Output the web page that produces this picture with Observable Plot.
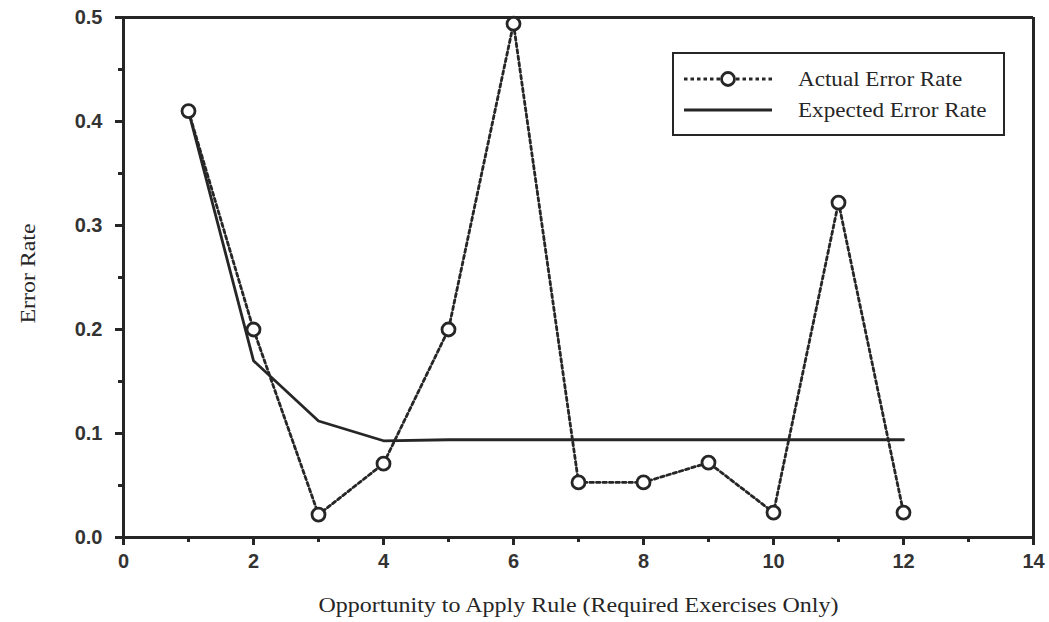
<!DOCTYPE html>
<html><head><meta charset="utf-8">
<script src="https://cdn.jsdelivr.net/npm/d3@7"></script>
<script src="https://cdn.jsdelivr.net/npm/@observablehq/plot@0.6"></script>
<style>
body{margin:0;background:#fff;}
#wrap{position:relative;width:1049px;height:622px;}
#legend{position:absolute;left:672px;top:52px;width:329px;height:80px;border:2.5px solid #262626;background:#fff;font-family:"Liberation Serif",serif;font-size:21px;color:#262626;}
#legend .row{position:absolute;left:10px;height:26px;display:flex;align-items:center;}
#legend .row span{margin-left:26px;display:inline-block;transform:scaleX(1.1);transform-origin:left center;}
</style>
</head><body>
<div id="wrap"><div id="legend"></div></div>
<script>
const opportunity = [1,2,3,4,5,6,7,8,9,10,11,12];
const actualRate = [0.41,0.2,0.022,0.071,0.2,0.494,0.053,0.053,0.072,0.024,0.322,0.024];
const expectedRate = [0.41,0.17,0.112,0.093,0.094,0.094,0.094,0.094,0.094,0.094,0.094,0.094];
const xMajorTicks = [0,2,4,6,8,10,12,14];
const xMinorTicks = [1,3,5,7,9,11,13];
const yMajorTicks = [0,0.1,0.2,0.3,0.4,0.5];
const yMinorTicks = [0.05,0.15,0.25,0.35,0.45];
const xLabel = "Opportunity to Apply Rule (Required Exercises Only)";
const yLabel = "Error Rate";
const seriesNames = ["Actual Error Rate","Expected Error Rate"];

const actual = opportunity.map((x,i)=>({x, y: actualRate[i]}));
const expected = opportunity.map((x,i)=>({x, y: expectedRate[i]}));
const ink = "#262626";

const chart = Plot.plot({
  width: 1049, height: 622,
  marginLeft: 123, marginRight: 16, marginTop: 17, marginBottom: 85,
  x: {domain: [0,14]},
  y: {domain: [0,0.5]},
  style: {fontFamily: '"Liberation Sans", sans-serif', fontSize: "20px", color: ink, background: "#fff"},
  marks: [
    Plot.axisX(xMajorTicks, {tickSize: 8, tickPadding: 8, stroke: ink, strokeWidth: 3, strokeOpacity: 1, tickFormat: d => String(d), label: null, fontSize: 20, fontWeight: "bold", fill: "#333"}),
    Plot.axisX(xMinorTicks, {tickSize: 5, stroke: ink, strokeWidth: 3, strokeOpacity: 1, tickFormat: () => "", label: null}),
    Plot.axisY(yMajorTicks, {tickSize: 8, tickPadding: 13, stroke: ink, strokeWidth: 3, strokeOpacity: 1, tickFormat: d => d.toFixed(1), label: null, fontSize: 20, fontWeight: "bold", fill: "#333"}),
    Plot.axisY(yMinorTicks, {tickSize: 5, stroke: ink, strokeWidth: 3, strokeOpacity: 1, tickFormat: () => "", label: null}),
    Plot.ruleY([0], {stroke: ink, strokeWidth: 3}),
    Plot.ruleY([0.5], {stroke: ink, strokeWidth: 3}),
    Plot.ruleX([0], {stroke: ink, strokeWidth: 3}),
    Plot.ruleX([14], {stroke: ink, strokeWidth: 3}),
    Plot.line(expected, {x: "x", y: "y", stroke: ink, strokeWidth: 2.8}),
    Plot.line(actual, {x: "x", y: "y", stroke: ink, strokeWidth: 2.8, strokeDasharray: "3.5,3"}),
    Plot.dot(actual, {x: "x", y: "y", r: 6.5, stroke: ink, strokeWidth: 2.8, fill: "#fff"}),
    Plot.text([xLabel], {frameAnchor: "bottom", lineAnchor: "middle", dy: 68, fontFamily: '"Liberation Serif", serif', fontSize: 21, fill: ink, className: "xlab"}),
    Plot.text([yLabel], {frameAnchor: "left", rotate: -90, textAnchor: "middle", dx: -95, dy: -4, fontFamily: '"Liberation Serif", serif', fontSize: 21, fill: ink, className: "ylab"})
  ]
});
document.getElementById("wrap").prepend(chart);
// stretch axis titles horizontally like the scanned original
d3.select(chart).selectAll("g.xlab text").attr("textLength", 520).attr("lengthAdjust", "spacingAndGlyphs");
d3.select(chart).selectAll("g.ylab text").attr("textLength", 100).attr("lengthAdjust", "spacingAndGlyphs");
// heavier tick strokes
d3.select(chart).selectAll('g[aria-label$="tick"]').attr("stroke-width", 3).attr("stroke", ink).attr("stroke-opacity", 1);

const legend = document.getElementById("legend");
const samples = [
  `<svg width="88" height="20"><line x1="0" y1="10" x2="88" y2="10" stroke="${ink}" stroke-width="2.8" stroke-dasharray="3.5,3"/><circle cx="44" cy="10" r="6.5" fill="#fff" stroke="${ink}" stroke-width="2.8"/></svg>`,
  `<svg width="88" height="20"><line x1="0" y1="10" x2="88" y2="10" stroke="${ink}" stroke-width="2.8"/></svg>`
];
seriesNames.forEach((name,i)=>{
  const row = document.createElement("div");
  row.className = "row";
  row.style.top = (i===0 ? 12 : 43) + "px";
  row.innerHTML = samples[i] + `<span>${name}</span>`;
  legend.appendChild(row);
});
</script>
</body></html>
